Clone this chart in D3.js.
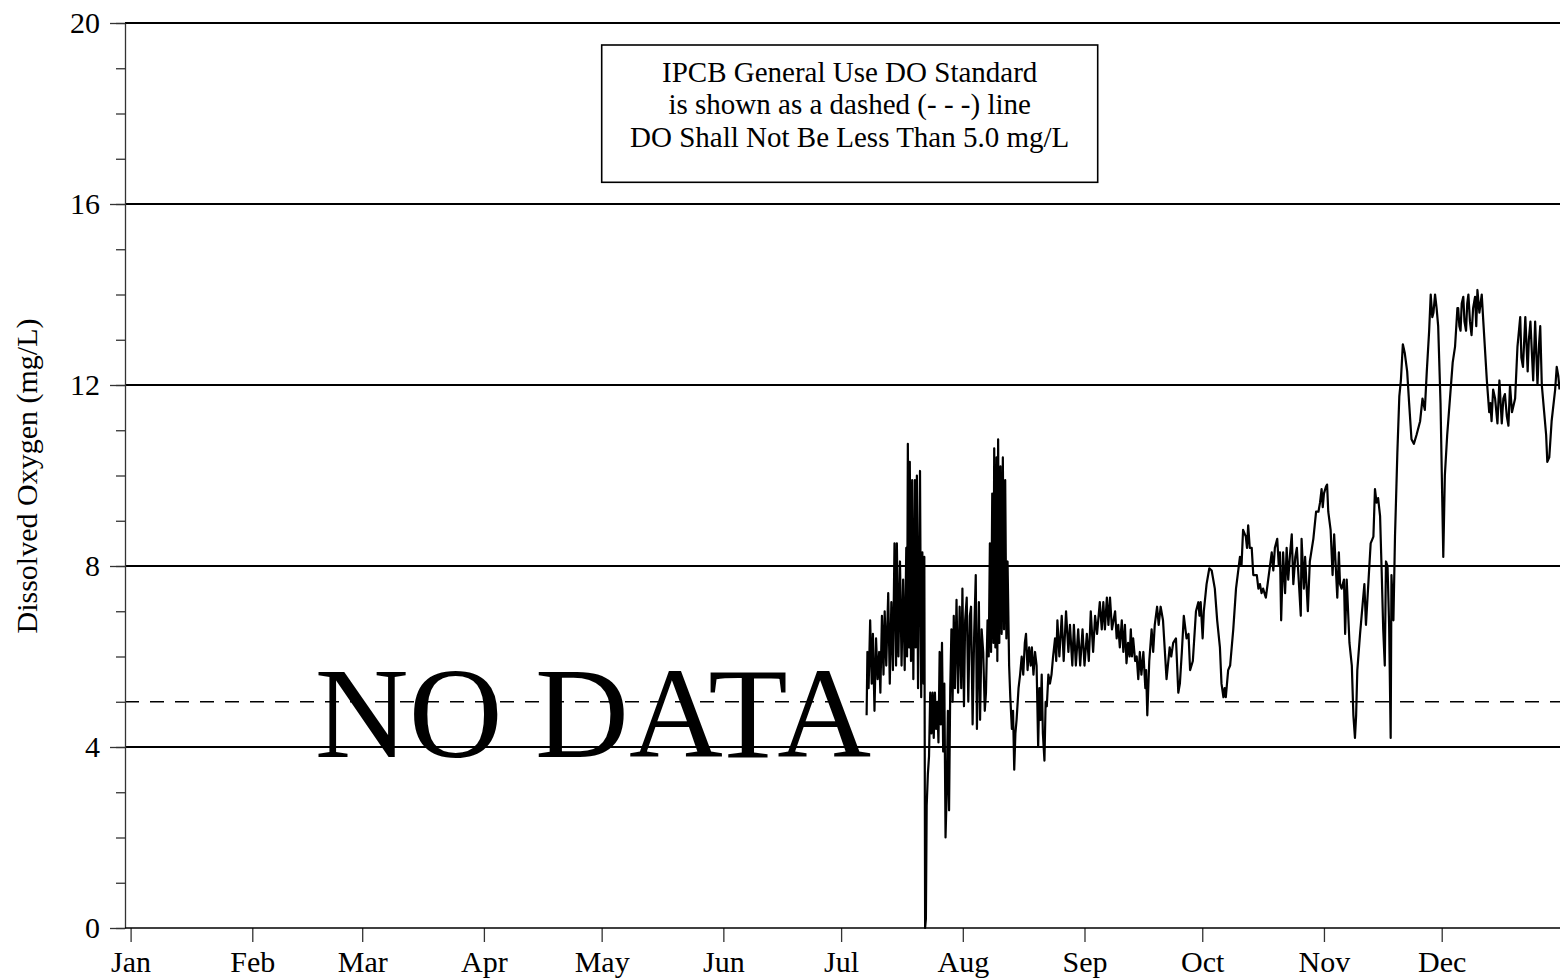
<!DOCTYPE html>
<html>
<head>
<meta charset="utf-8">
<script src="https://cdn.jsdelivr.net/npm/d3@7"></script>
<style>
  body { margin: 0; background: #fff; }
  svg { display: block; }
  text { font-family: "Liberation Serif", "Times New Roman", serif; }
</style>
</head>
<body>
<svg width="1560" height="980"></svg>
<script>
// ---- data ----
var monthLabels = ["Jan","Feb","Mar","Apr","May","Jun","Jul","Aug","Sep","Oct","Nov","Dec"];
var yTicks = [0, 4, 8, 12, 16, 20];
var yMinorTicks = d3.range(0, 21, 1);
var doStandard = 5.0;
var legendLines = [
  "IPCB General Use DO Standard",
  "is shown as a dashed (- - -) line",
  "DO Shall Not Be Less Than 5.0 mg/L"
];
// [day of year (0 = Jan 1), dissolved oxygen mg/L]
var doReadings = [
[187.5,4.7],[187.7,6.1],[188.0,5.3],[188.4,6.8],[188.8,5.4],[189.1,6.5],[189.5,4.8],[189.9,6.4],[190.3,5.5],[190.7,6.1],
[191.0,5.2],[191.4,6.9],[191.8,5.6],[192.1,7.0],[192.5,5.8],[193.0,7.4],[193.4,5.4],[193.8,7.2],[194.2,5.7],[194.6,8.5],
[195.0,5.8],[195.2,8.5],[195.6,6.0],[196.0,8.1],[196.4,5.8],[196.8,7.7],[197.2,5.7],[197.6,8.4],[197.8,6.0],[198.0,10.7],
[198.3,6.2],[198.5,10.3],[198.8,5.9],[199.1,9.9],[199.4,5.5],[199.8,9.9],[200.0,6.2],[200.3,10.0],[200.6,5.3],[201.1,10.1],
[201.4,5.1],[201.7,8.3],[202.0,5.4],[202.2,8.2],[202.4,0.0],[202.6,0.2],[202.8,2.7],[203.1,3.4],[203.4,3.8],[203.7,5.2],
[204.0,4.3],[204.3,5.2],[204.6,4.2],[204.9,5.2],[205.2,4.4],[205.5,5.0],[205.8,4.1],[206.1,6.1],[206.4,4.5],[206.7,6.3],
[207.0,3.9],[207.3,5.4],[207.6,2.0],[207.9,3.0],[208.2,4.8],[208.5,2.6],[208.8,5.3],[209.1,6.6],[209.4,5.0],[209.7,6.9],
[210.0,5.3],[210.4,7.25],[210.8,5.2],[211.2,7.1],[211.6,5.3],[211.9,7.5],[212.3,4.9],[212.6,6.8],[213.0,7.3],[213.4,5.0],
[213.8,6.9],[214.1,7.1],[214.5,4.5],[214.9,6.5],[215.3,7.8],[215.6,4.4],[216.1,7.2],[216.4,4.6],[216.8,6.6],[217.2,6.1],
[217.6,4.8],[217.9,5.2],[218.3,6.8],[218.6,6.0],[218.9,8.5],[219.2,6.1],[219.5,9.6],[219.8,6.3],[220.0,10.6],[220.3,6.2],
[220.6,10.4],[220.8,5.9],[221.0,10.8],[221.3,6.3],[221.6,10.2],[221.9,6.5],[222.2,10.4],[222.5,6.6],[222.8,9.9],[223.1,6.4],
[223.4,8.1],[223.8,5.8],[224.1,5.1],[224.5,4.4],[224.8,4.8],[225.1,3.5],[225.4,4.3],[225.7,4.6],[226.2,5.3],[226.6,5.6],
[227.0,6.0],[227.4,5.6],[227.8,6.3],[228.1,6.5],[228.5,5.7],[228.9,6.2],[229.3,5.8],[229.6,6.2],[230.0,5.6],[230.4,6.1],
[230.8,5.8],[231.2,4.0],[231.5,5.3],[231.8,4.6],[232.1,5.6],[232.4,4.3],[232.8,3.7],[233.1,5.0],[233.4,4.9],[233.8,5.6],
[234.2,5.4],[234.6,5.6],[235.0,6.0],[235.5,6.4],[235.8,5.9],[236.1,6.8],[236.6,6.0],[237.2,6.9],[237.7,5.9],[238.3,7.0],
[238.9,6.1],[239.3,6.7],[239.9,5.8],[240.3,6.7],[240.8,5.8],[241.4,6.6],[241.9,5.8],[242.5,6.6],[243.0,5.8],[243.6,6.5],
[244.1,5.9],[244.6,7.0],[245.2,6.1],[245.7,6.9],[246.2,6.5],[246.9,7.2],[247.4,6.6],[247.8,7.2],[248.2,6.6],[248.7,7.3],
[249.1,6.7],[249.5,7.3],[250.0,6.6],[250.8,7.0],[251.2,6.4],[251.6,6.7],[252.0,6.2],[252.5,6.8],[252.9,6.1],[253.3,6.7],
[253.7,5.85],[254.1,6.3],[254.5,6.0],[254.8,6.6],[255.1,6.0],[255.4,6.4],[255.9,5.9],[256.3,6.0],[256.7,5.5],[257.1,6.1],
[257.5,5.6],[258.0,6.1],[258.5,5.3],[258.7,5.7],[259.0,4.7],[259.5,5.9],[260.1,6.6],[260.5,6.1],[260.9,6.7],[261.5,7.1],
[261.9,6.7],[262.4,7.1],[263.0,6.8],[263.9,5.5],[264.7,6.2],[265.1,6.0],[265.6,6.3],[266.3,6.4],[266.9,5.2],[267.3,5.4],
[267.8,6.1],[268.3,6.9],[269.0,6.4],[269.5,6.5],[269.9,5.7],[270.6,5.9],[271.4,7.0],[272.0,7.2],[272.3,6.9],[272.6,7.2],
[273.1,6.4],[273.4,7.0],[274.1,7.6],[274.8,7.95],[275.4,7.9],[276.2,7.5],[276.8,6.8],[277.5,6.2],[277.9,5.4],[278.4,5.1],
[278.7,5.3],[279.0,5.1],[279.6,5.7],[280.1,5.8],[280.9,6.6],[281.6,7.5],[282.6,8.2],[283.0,8.0],[283.4,8.8],[284.1,8.65],
[284.4,8.4],[284.7,8.9],[285.1,8.4],[285.6,8.4],[286.0,7.8],[286.9,7.8],[287.3,7.5],[287.7,7.6],[288.1,7.4],[288.5,7.5],
[289.2,7.3],[289.8,7.7],[290.7,8.3],[291.1,7.9],[291.5,8.4],[292.1,8.6],[292.5,8.0],[292.8,8.3],[293.1,6.8],[293.6,8.3],
[294.1,7.4],[294.5,8.4],[294.9,7.7],[295.4,8.3],[295.8,8.7],[296.2,7.6],[296.7,8.2],[297.1,8.4],[297.5,7.8],[298.1,6.9],
[298.3,8.6],[298.9,7.5],[299.2,8.2],[299.9,7.0],[300.4,8.1],[301.3,8.6],[302.0,9.2],[302.6,9.2],[303.0,9.4],[303.4,9.7],
[303.7,9.3],[304.0,9.6],[304.5,9.75],[304.8,9.8],[305.1,9.2],[305.7,8.8],[306.2,7.8],[306.6,8.7],[307.0,8.0],[307.4,7.3],
[307.8,8.3],[308.1,7.6],[308.5,7.5],[309.1,7.7],[309.4,6.5],[309.8,7.7],[310.5,6.3],[311.1,5.8],[311.5,4.7],[311.9,4.2],
[312.2,4.7],[312.5,5.7],[313.2,6.5],[313.9,7.2],[314.3,7.6],[314.7,6.7],[315.3,7.6],[315.9,8.5],[316.6,8.65],[317.0,9.7],
[317.4,9.4],[317.8,9.5],[318.3,9.1],[318.7,7.9],[319.1,6.6],[319.5,5.8],[319.8,8.1],[320.2,8.0],[320.6,6.7],[321.0,4.2],
[321.2,7.8],[321.7,6.8],[322.1,8.65],[322.7,10.5],[323.2,11.75],[323.6,12.1],[324.1,12.9],[324.6,12.7],[325.2,12.3],[325.7,11.6],
[326.3,10.8],[326.9,10.7],[327.6,10.9],[328.5,11.2],[329.1,11.7],[329.7,11.45],[330.2,12.3],[330.8,13.2],[331.2,14.0],[331.6,13.5],
[331.9,13.6],[332.3,14.0],[332.7,13.7],[333.1,13.3],[333.7,11.6],[334.4,8.2],[334.8,10.0],[335.4,10.9],[336.1,11.7],[336.8,12.5],
[337.4,12.85],[338.0,13.7],[338.2,13.7],[338.5,13.3],[338.8,13.2],[339.1,13.8],[339.5,13.95],[339.8,13.4],[340.2,13.2],[340.5,13.8],
[340.8,14.0],[341.2,13.4],[341.6,13.1],[342.0,13.7],[342.5,13.95],[342.8,13.3],[343.1,14.1],[343.6,13.6],[344.2,14.0],[344.6,13.4],
[345.5,12.1],[346.1,11.4],[346.4,11.6],[346.7,11.2],[347.1,11.9],[347.6,11.7],[348.2,11.15],[348.7,12.1],[349.3,11.15],[349.7,11.7],
[350.1,11.8],[350.6,11.3],[351.0,11.1],[351.4,12.0],[351.9,11.4],[352.7,11.7],[353.3,12.85],[354.0,13.5],[354.3,12.6],[354.7,12.4],
[355.3,13.5],[355.9,12.3],[356.2,13.0],[356.6,13.4],[357.3,12.1],[357.8,13.4],[358.4,12.0],[358.8,12.9],[359.1,13.3],[359.5,12.0],
[360.1,11.4],[360.6,10.9],[360.9,10.3],[361.4,10.4],[362.0,11.2],[362.9,11.9],[363.3,12.4],[363.7,12.2],[364.0,11.9]
];

// ---- chart ----
var svg = d3.select("svg");
var left = 125, right = 1560;
var yearStart = Date.UTC(2019, 0, 1);
function dayToDate(d) { return new Date(yearStart + d * 864e5); }

var x = d3.scaleUtc()
    .domain([new Date(yearStart), new Date(Date.UTC(2020, 0, 1))])
    .range([130.6, 1563.4]);
var y = d3.scaleLinear().domain([0, 20]).range([928, 23]);

// horizontal grid lines at the labelled values
svg.append("g").selectAll("line")
    .data(yTicks.filter(function(d){ return d > 0; }))
    .enter().append("line")
    .attr("x1", left).attr("x2", right)
    .attr("y1", function(d){ return y(d); })
    .attr("y2", function(d){ return y(d); })
    .attr("stroke", "#000")
    .attr("stroke-width", 1.8);

// DO standard, dashed
svg.append("line")
    .attr("x1", left).attr("x2", right)
    .attr("y1", y(doStandard)).attr("y2", y(doStandard))
    .attr("stroke", "#000")
    .attr("stroke-width", 1.7)
    .attr("stroke-dasharray", "14,11");

// NO DATA stamp
svg.append("text")
    .attr("x", 593).attr("y", 757)
    .attr("text-anchor", "middle")
    .attr("font-size", 130)
    .attr("fill", "#000")
    .text("NO DATA");

// y axis: minor then major ticks
var yMinor = svg.append("g")
    .attr("transform", "translate(" + left + ",0)")
    .call(d3.axisLeft(y).tickValues(yMinorTicks).tickSize(9).tickSizeOuter(0).tickFormat(""));
yMinor.select(".domain").remove();

var yAxis = svg.append("g")
    .attr("transform", "translate(" + left + ",0)")
    .call(d3.axisLeft(y).tickValues(yTicks).tickSize(15).tickSizeOuter(0).tickPadding(10)
        .tickFormat(d3.format("d")));
yAxis.select(".domain").attr("stroke", "#333").attr("stroke-width", 1.3);

// x axis
var xAxis = svg.append("g")
    .attr("transform", "translate(0,928)")
    .call(d3.axisBottom(x)
        .tickValues(d3.utcMonths(new Date(yearStart), new Date(Date.UTC(2019, 11, 31))))
        .tickSize(14).tickSizeOuter(0).tickPadding(9)
        .tickFormat(function(d){ return monthLabels[d.getUTCMonth()]; }));
xAxis.select(".domain").remove();
svg.append("line")
    .attr("x1", left).attr("x2", right)
    .attr("y1", 928).attr("y2", 928)
    .attr("stroke", "#000").attr("stroke-width", 1.6);

svg.selectAll(".tick line").attr("stroke", "#333").attr("stroke-width", 1.3);
svg.selectAll(".tick text")
    .attr("font-family", "'Liberation Serif', 'Times New Roman', serif")
    .attr("font-size", 30)
    .attr("fill", "#000");

// y axis title
svg.append("text")
    .attr("transform", "translate(37,476) rotate(-90)")
    .attr("text-anchor", "middle")
    .attr("font-size", 30)
    .text("Dissolved Oxygen (mg/L)");

// DO series
var line = d3.line()
    .x(function(d){ return x(dayToDate(d[0])); })
    .y(function(d){ return y(d[1]); });

svg.append("path")
    .datum(doReadings)
    .attr("d", line)
    .attr("fill", "none")
    .attr("stroke", "#000")
    .attr("stroke-width", 2.2)
    .attr("stroke-linejoin", "round");

// legend note box
var box = svg.append("g");
box.append("rect")
    .attr("x", 601.7).attr("y", 45)
    .attr("width", 496).attr("height", 137.3)
    .attr("fill", "#fff")
    .attr("stroke", "#000")
    .attr("stroke-width", 1.6);
box.selectAll("text")
    .data(legendLines)
    .enter().append("text")
    .attr("x", 849.7)
    .attr("y", function(d, i){ return 82 + i * 32.4; })
    .attr("text-anchor", "middle")
    .attr("font-size", 29)
    .text(function(d){ return d; });
</script>
</body>
</html>
